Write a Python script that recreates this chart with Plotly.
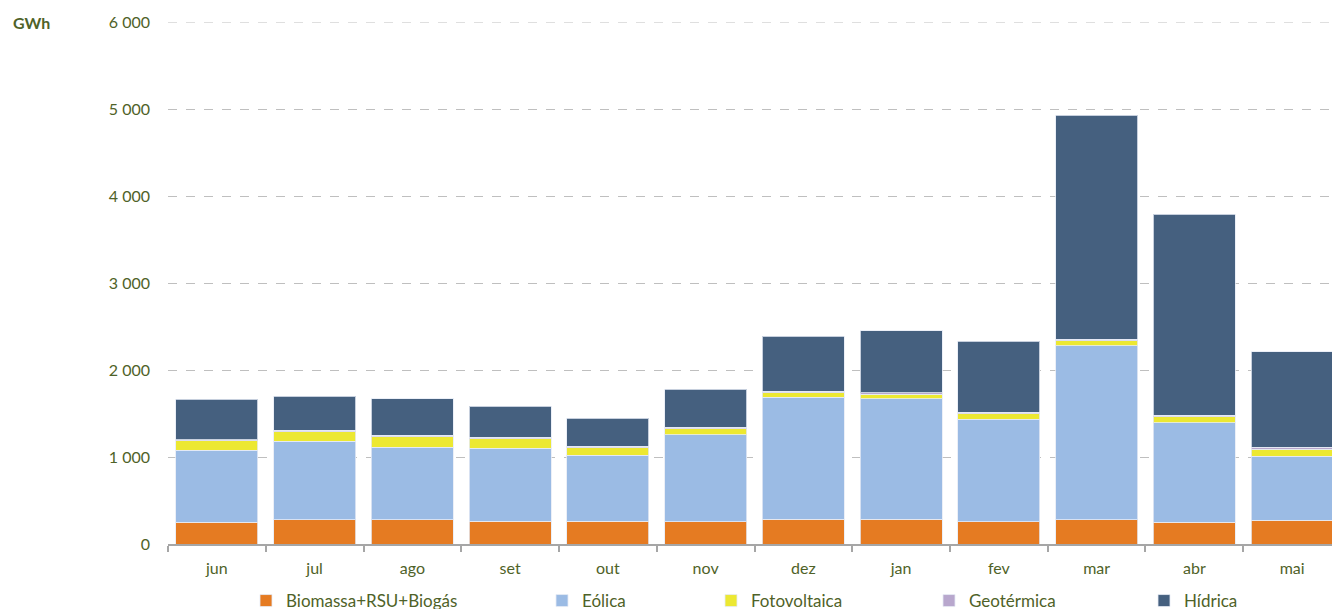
import plotly.graph_objects as go

months = ["jun", "jul", "ago", "set", "out", "nov", "dez", "jan", "fev", "mar", "abr", "mai"]
biomassa = [249, 280, 280, 261, 264, 257, 284, 284, 257, 280, 249, 272]
eolica = [828, 900, 835, 842, 759, 1000, 1402, 1386, 1176, 1996, 1142, 736]
fotovoltaica = [107, 111, 115, 104, 84, 69, 54, 50, 65, 61, 73, 84]
geotermica = [16, 18, 18, 18, 18, 18, 18, 18, 18, 18, 18, 18]
hidrica = [463, 388, 419, 360, 318, 433, 632, 716, 813, 2575, 2310, 1099]

y_ticks = [0, 1000, 2000, 3000, 4000, 5000, 6000]
y_tick_labels = ["0", "1 000", "2 000", "3 000", "4 000", "5 000", "6 000"]

series = [
    ("Biomassa+RSU+Biogás", biomassa, "#E57B22"),
    ("Eólica", eolica, "#9BBBE4"),
    ("Fotovoltaica", fotovoltaica, "#ECE832"),
    ("Geotérmica", geotermica, "#B8A7CD"),
    ("Hídrica", hidrica, "#45607F"),
]

text_color = "#4F6228"
font_family = "Lato, 'Open Sans', sans-serif"
W, H = 1332, 609
L, T, B = 168, 22, 65
PW, PH = W - L, H - T - B

legend_px = [246, 542, 711, 929, 1144]

fig = go.Figure()
for i, (name, vals, color) in enumerate(series):
    lg = "legend" if i == 0 else f"legend{i+1}"
    fig.add_trace(go.Bar(
        x=months, y=vals, name=name,
        marker=dict(color=color, line=dict(color="rgba(230,235,245,0.8)", width=1)),
        legend=lg, showlegend=True,
    ))

layout_legends = {}
for i, px in enumerate(legend_px):
    key = "legend" if i == 0 else f"legend{i+1}"
    layout_legends[key] = dict(
        x=px / W, xref="container", xanchor="left",
        y=1 - 583 / H, yref="container", yanchor="top",
        orientation="h", bgcolor="rgba(0,0,0,0)",
        font=dict(size=17, color=text_color, family=font_family),
        itemwidth=30, tracegroupgap=0,
    )

fig.update_layout(
    width=W, height=H,
    barmode="stack",
    bargap=0.16,
    showlegend=True,
    plot_bgcolor="white", paper_bgcolor="white",
    margin=dict(l=L, r=0, t=T, b=B, autoexpand=False),
    font=dict(family=font_family, size=16, color=text_color),
    **layout_legends,
    xaxis=dict(
        range=[-0.5, 11.408],
        showline=True, linecolor="#A6A6A6", linewidth=1.5,
        ticks="outside", tickson="boundaries", ticklen=6, tickcolor="#A6A6A6", tickwidth=1.5,
        tickfont=dict(size=16, color=text_color),
        ticklabelstandoff=9,
        showgrid=False,
    ),
    yaxis=dict(
        range=[0, 6000],
        tickvals=y_ticks, ticktext=y_tick_labels,
        showgrid=True, gridcolor="#BFBFBF", griddash="dash", gridwidth=1,
        zeroline=False, showline=False,
        ticks="", ticklabelstandoff=17,
        tickfont=dict(size=16, color=text_color),
    ),
    shapes=[dict(
        type="line", xref="paper", x0=0, x1=1, yref="y", y0=y_ticks[-1], y1=y_ticks[-1],
        line=dict(color="#BFBFBF", width=1, dash="dash"), layer="below",
    )],
    annotations=[dict(
        text="<b>GWh</b>", x=(11 - L) / PW, xref="paper", xanchor="left",
        y=(H - B - 22) / PH, yref="paper", yanchor="middle",
        showarrow=False, font=dict(size=16, color=text_color, family=font_family),
    )],
)

fig.write_html(
    "out.html",
    config={"displayModeBar": False},
    post_script="document.body.style.margin='0';document.body.style.overflow='hidden';",
)
